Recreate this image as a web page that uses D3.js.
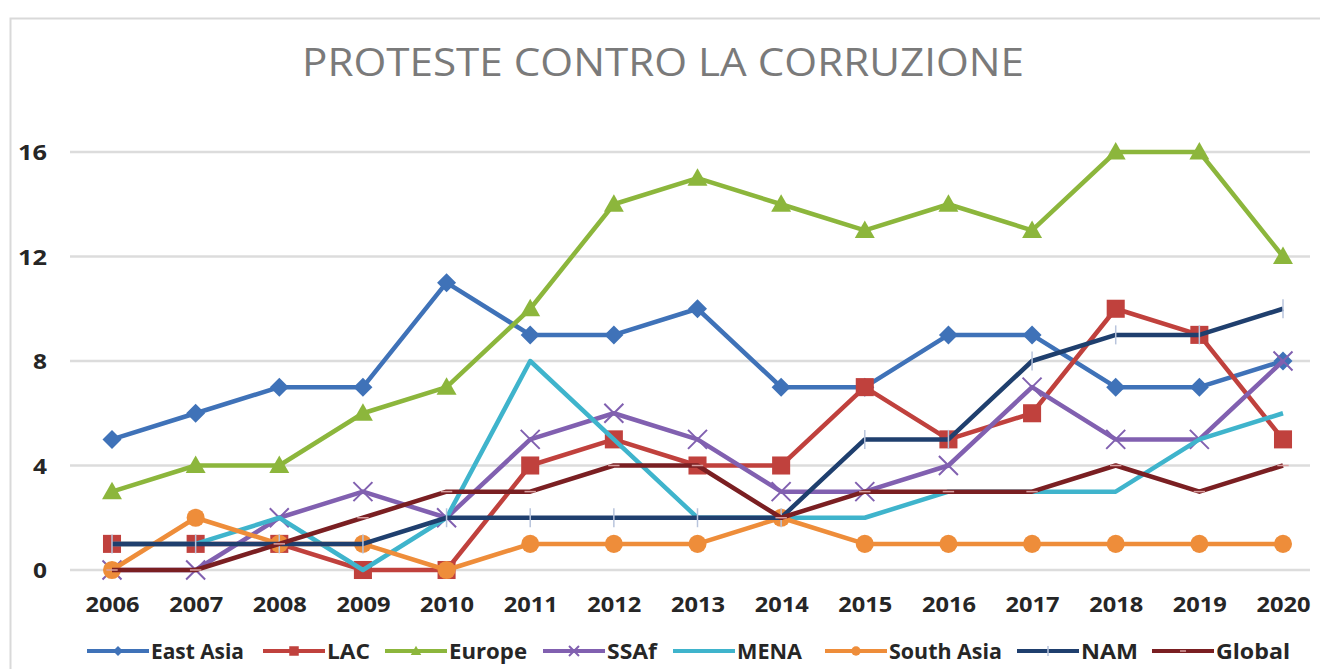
<!DOCTYPE html>
<html>
<head>
<meta charset="utf-8">
<script src="https://cdn.jsdelivr.net/npm/d3@7"></script>
<style>
  body { margin: 0; background: #fff; }
  svg { display: block; }
</style>
</head>
<body>
<div class="chart"></div>
<script>
// data
const years = [2006, 2007, 2008, 2009, 2010, 2011, 2012, 2013, 2014, 2015, 2016, 2017, 2018, 2019, 2020];
const eastAsia = [5, 6, 7, 7, 11, 9, 9, 10, 7, 7, 9, 9, 7, 7, 8];
const lac = [1, 1, 1, 0, 0, 4, 5, 4, 4, 7, 5, 6, 10, 9, 5];
const europe = [3, 4, 4, 6, 7, 10, 14, 15, 14, 13, 14, 13, 16, 16, 12];
const ssaf = [0, 0, 2, 3, 2, 5, 6, 5, 3, 3, 4, 7, 5, 5, 8];
const mena = [1, 1, 2, 0, 2, 8, 5, 2, 2, 2, 3, 3, 3, 5, 6];
const southAsia = [0, 2, 1, 1, 0, 1, 1, 1, 2, 1, 1, 1, 1, 1, 1];
const nam = [1, 1, 1, 1, 2, 2, 2, 2, 2, 5, 5, 8, 9, 9, 10];
const global = [0, 0, 1, 2, 3, 3, 4, 4, 2, 3, 3, 3, 4, 3, 4];
const yTicks = [0, 4, 8, 12, 16];

const series = [
  { name: 'East Asia', values: eastAsia, color: '#3f72b8', marker: 'diamond' },
  { name: 'LAC', values: lac, color: '#c0413d', marker: 'square' },
  { name: 'Europe', values: europe, color: '#8cb63c', marker: 'triangle' },
  { name: 'SSAf', values: ssaf, color: '#8160b0', marker: 'x' },
  { name: 'MENA', values: mena, color: '#3fb4cc', marker: 'none' },
  { name: 'South Asia', values: southAsia, color: '#ee8d3a', marker: 'circle' },
  { name: 'NAM', values: nam, color: '#1f3f6e', marker: 'plus' },
  { name: 'Global', values: global, color: '#7a1f22', marker: 'dash' },
];

const W = 1320;
const H = 669;
const labelFont = '"Open Sans", sans-serif';

const svg = d3.select('.chart')
  .append('svg')
  .attr('width', W)
  .attr('height', H);

// chart frame
svg.append('rect')
  .attr('x', 10.5)
  .attr('y', 18.5)
  .attr('width', W)
  .attr('height', H)
  .attr('fill', '#fff')
  .attr('stroke', '#d9d9d9')
  .attr('stroke-width', 2);

svg.append('text')
  .attr('x', 663)
  .attr('y', 76)
  .attr('text-anchor', 'middle')
  .attr('textLength', 722)
  .attr('lengthAdjust', 'spacingAndGlyphs')
  .style('font-family', labelFont)
  .style('font-size', '38px')
  .style('fill', '#7a7a7a')
  .text('PROTESTE CONTRO LA CORRUZIONE');

const x = d3.scalePoint()
  .domain(years)
  .range([112, 1283]);

const y = d3.scaleLinear()
  .domain([0, 16])
  .range([570, 152]);

// gridlines
svg.append('g')
  .selectAll('line')
  .data(yTicks)
  .enter()
  .append('line')
  .attr('x1', 70)
  .attr('x2', 1310)
  .attr('y1', (d) => y(d))
  .attr('y2', (d) => y(d))
  .attr('stroke', '#dcdcdc')
  .attr('stroke-width', 2.5);

// y axis
const yAxis = svg.append('g')
  .attr('transform', 'translate(47,0)')
  .call(d3.axisLeft(y).tickValues(yTicks).tickSize(0).tickPadding(0));
yAxis.select('.domain').remove();

// x axis
const xAxis = svg.append('g')
  .attr('transform', 'translate(0,595)')
  .call(d3.axisBottom(x).tickSize(0).tickPadding(0).tickFormat(d3.format('d')));
xAxis.select('.domain').remove();

svg.selectAll('.tick text')
  .style('font-family', labelFont)
  .style('font-weight', 'bold')
  .style('font-size', '22px')
  .style('fill', '#262626')
  .attr('lengthAdjust', 'spacingAndGlyphs');
xAxis.selectAll('.tick text').attr('dy', '0.75em').attr('textLength', 54);
yAxis.selectAll('.tick text').attr('dy', '0.36em')
  .attr('textLength', (d) => (d >= 10 ? 29 : 14));

function drawMarker(g, type, color, size) {
  const s = size;
  if (type === 'diamond') {
    g.append('path').attr('d', `M0,${-s}L${s},0L0,${s}L${-s},0Z`).attr('fill', color);
  } else if (type === 'square') {
    g.append('rect').attr('x', -s * 0.95).attr('y', -s * 0.95)
      .attr('width', s * 1.9).attr('height', s * 1.9).attr('fill', color);
  } else if (type === 'triangle') {
    g.append('path').attr('d', `M0,${-s * 1.05}L${s * 1.05},${s * 0.8}L${-s * 1.05},${s * 0.8}Z`).attr('fill', color);
  } else if (type === 'circle') {
    g.append('circle').attr('r', s * 0.95).attr('fill', color);
  } else if (type === 'x') {
    g.append('path').attr('d', `M${-s},${-s}L${s},${s}M${-s},${s}L${s},${-s}`)
      .attr('stroke', color).attr('stroke-width', 2).attr('fill', 'none');
  } else if (type === 'plus') {
    g.append('path').attr('d', `M0,${-s}L0,${s}`)
      .attr('stroke', '#b8c4dc').attr('stroke-width', 1.5);
  } else if (type === 'dash') {
    g.append('path').attr('d', `M${-s * 0.6},0L${s * 0.6},0`)
      .attr('stroke', '#d8a0a0').attr('stroke-width', 1.5);
  }
}

const line = d3.line()
  .x((d, i) => x(years[i]))
  .y((d) => y(d));

series.forEach((s) => {
  const g = svg.append('g').attr('class', 'series');
  g.append('path')
    .datum(s.values)
    .attr('d', line)
    .attr('fill', 'none')
    .attr('stroke', s.color)
    .attr('stroke-width', 4.5)
    .attr('stroke-linejoin', 'round');
  s.values.forEach((v, i) => {
    const m = g.append('g').attr('transform', `translate(${x(years[i])},${y(v)})`);
    drawMarker(m, s.marker, s.color, 9.5);
  });
});

// legend
const legendX = [87, 263, 385, 543, 673, 825, 1017, 1152];
const legendW = [93, 43, 78, 50, 65, 113, 57, 74];
const legend = svg.append('g').attr('transform', 'translate(0,651)');
series.forEach((s, i) => {
  const lg = legend.append('g').attr('transform', `translate(${legendX[i]},0)`);
  lg.append('line')
    .attr('x1', 0).attr('x2', 62)
    .attr('stroke', s.color)
    .attr('stroke-width', 4);
  const m = lg.append('g').attr('transform', 'translate(31,0)');
  drawMarker(m, s.marker, s.color, 5);
  lg.append('text')
    .attr('x', 64)
    .attr('dy', '0.36em')
    .attr('textLength', legendW[i])
    .attr('lengthAdjust', 'spacingAndGlyphs')
    .style('font-family', labelFont)
    .style('font-weight', 'bold')
    .style('font-size', '22px')
    .style('fill', '#262626')
    .text(s.name);
});
</script>
</body>
</html>
